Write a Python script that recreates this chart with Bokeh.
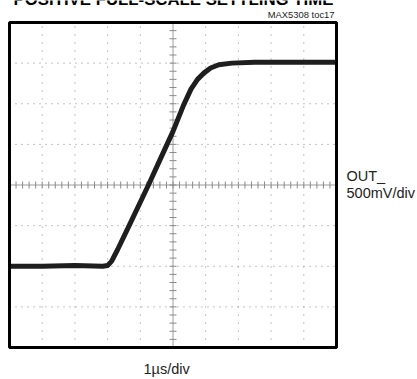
import numpy as np
from bokeh.plotting import figure
from bokeh.models import Label, Range1d
from bokeh.embed import file_html
from bokeh.resources import INLINE

# --- data ---
time_us = [0.0, 1.0, 2.0, 2.85, 3.0, 3.12, 3.3, 3.6, 4.25, 4.59, 5.0, 5.32, 5.55, 5.75, 5.95, 6.15, 6.4, 6.8, 7.5, 8.5, 10.0]
out_v = [-1.00, -1.00, -0.99, -1.00, -0.99, -0.94, -0.80, -0.55, 0.00, 0.30, 0.66, 0.98, 1.18, 1.30, 1.38, 1.44, 1.48, 1.50, 1.51, 1.51, 1.51]

x_divs = list(range(0, 11))            # µs, 1 µs/div
y_divs = [-2.0, -1.5, -1.0, -0.5, 0.0, 0.5, 1.0, 1.5, 2.0]   # V, 500 mV/div

title_text = "POSITIVE FULL-SCALE SETTLING TIME"
tag_text = "MAX5308 toc17"
y_label_1 = "OUT_"
y_label_2 = "500mV/div"
x_label = "1\u00b5s/div"

FONT = "Liberation Sans"

# scale: 32.7 px per µs, 81.25 px per V; graticule from px (9,22) to (336,347)
PX_X = 10 / 327.0
PX_Y = 4 / 325.0
x0, x1 = x_divs[0], x_divs[-1]
y0, y1 = y_divs[0], y_divs[-1]
TOP = 22


def ypos(py_baseline, fs):
    off = 0.36 * fs
    return y1 - (py_baseline - TOP - off) * PX_Y


def xpos(px):
    return x0 + (px - 9) * PX_X


p = figure(width=417, height=379, output_backend="svg", toolbar_location=None,
           x_range=Range1d(x0 - 9 * PX_X, x1 + 81 * PX_X),
           y_range=Range1d(y0 - 32 * PX_Y, y1 + TOP * PX_Y),
           min_border=0)
p.axis.visible = False
p.grid.visible = False
p.outline_line_color = None
p.background_fill_color = "white"
p.border_fill_color = "white"

grid_col = "#8a8a8a"
# dotted graticule
vx = [x for x in x_divs[1:-1] if x != 5]
p.segment(x0=vx, y0=[y0] * len(vx), x1=vx, y1=[y1] * len(vx),
          line_color=grid_col, line_width=1, line_dash="1 7")
hy = [y for y in y_divs[1:-1] if y != 0]
p.segment(x0=[x0] * len(hy), y0=hy, x1=[x1] * len(hy), y1=hy,
          line_color=grid_col, line_width=1, line_dash="1 5")

# centre cross with minor ticks
p.segment(x0=[x0, 5], y0=[0, y0], x1=[x1, 5], y1=[0, y1], line_color="#9a9a9a", line_width=1)
hx = np.arange(0.2, 10, 0.2)
p.scatter(hx, np.zeros_like(hx), marker="dash", size=7, angle=np.pi / 2,
          line_color=grid_col, line_width=1)
vy = np.arange(-1.9, 2.0, 0.1)
p.scatter(np.full_like(vy, 5.0), vy, marker="dash", size=7,
          line_color=grid_col, line_width=1)

# trace
p.line(time_us, out_v, line_color="#1e1e1e", line_width=5, line_join="round")

# graticule frame
p.quad(left=[x0], right=[x1], bottom=[y0], top=[y1], fill_color=None,
       line_color="black", line_width=3)

# texts
p.add_layout(Label(x=xpos(173), y=ypos(5.5, 16.8), text=title_text, text_align="center",
                   text_baseline="alphabetic", text_font=FONT, text_font_style="bold",
                   text_font_size="16.8px", text_color="black"))
p.add_layout(Label(x=xpos(334), y=ypos(17, 9.4), text=tag_text, text_align="right",
                   text_baseline="alphabetic", text_font=FONT, text_font_size="9.4px",
                   text_color="#222222"))
p.add_layout(Label(x=xpos(346), y=ypos(181, 14.5), text=y_label_1, text_align="left",
                   text_baseline="alphabetic", text_font=FONT, text_font_size="14.5px",
                   text_color="#222222"))
p.add_layout(Label(x=xpos(346), y=ypos(198, 14.5), text=y_label_2, text_align="left",
                   text_baseline="alphabetic", text_font=FONT, text_font_size="14.5px",
                   text_color="#222222"))
p.add_layout(Label(x=xpos(143), y=ypos(374, 14.5), text=x_label, text_align="left",
                   text_baseline="alphabetic", text_font=FONT, text_font_size="14.5px",
                   text_color="#222222"))

open("out.html", "w").write(file_html(p, INLINE))
